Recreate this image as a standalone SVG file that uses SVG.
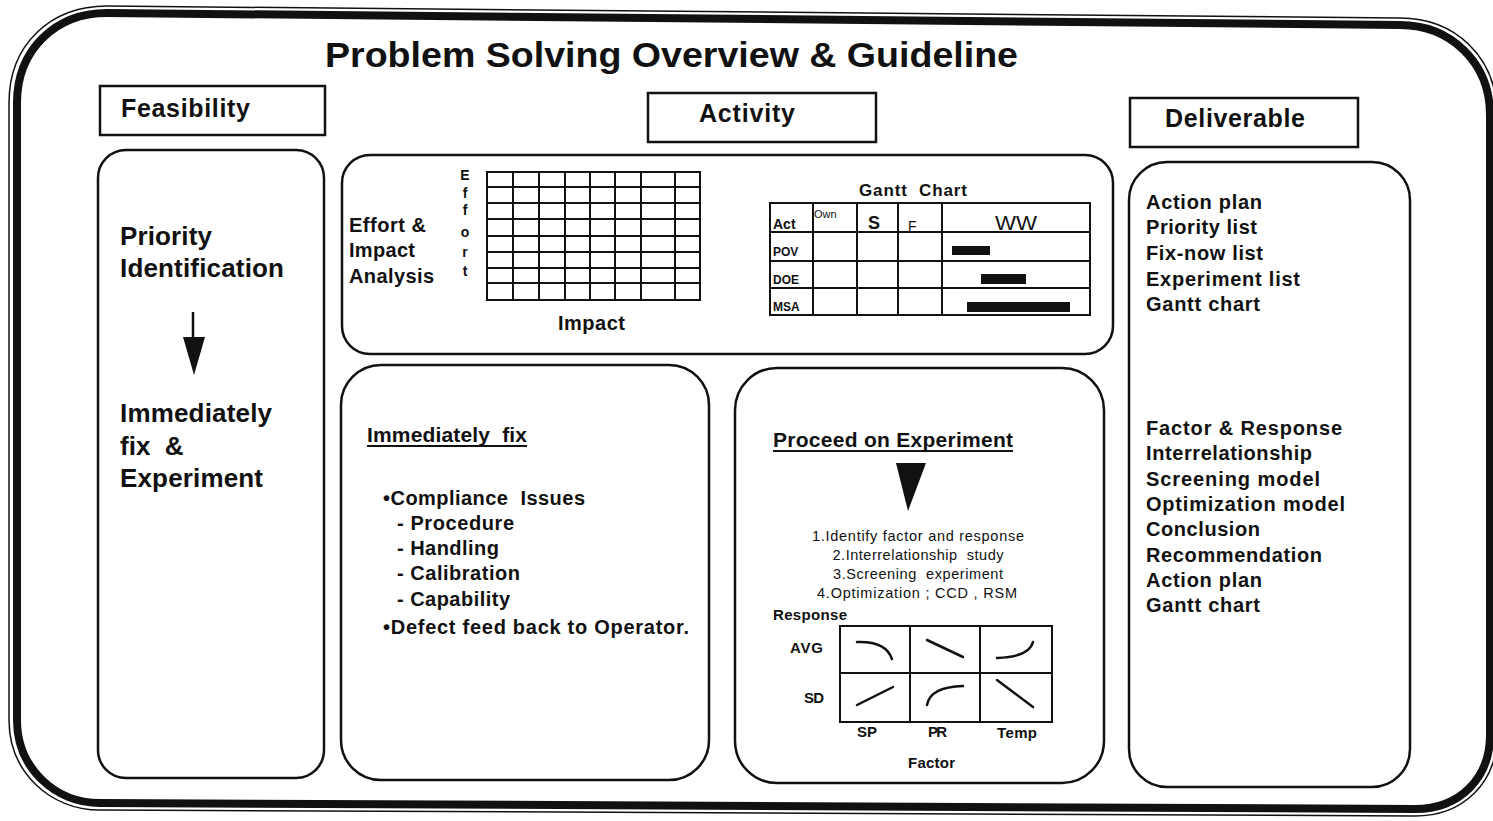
<svg xmlns="http://www.w3.org/2000/svg" width="1493" height="821" viewBox="0 0 1493 821">
<style>
text{font-family:"Liberation Sans",Arial,sans-serif;fill:#111}
.b{font-weight:bold}
.panel{fill:none;stroke:#111;stroke-width:2.5}
.hdr{fill:#fff;stroke:#111;stroke-width:2.5}
.grid{fill:none;stroke:#111;stroke-width:2}
.cur{fill:none;stroke:#111;stroke-width:2.5;stroke-linecap:round}
.h1{font-size:25px;font-weight:bold}
.big{font-size:26px;font-weight:bold}
.mid{font-size:20px;font-weight:bold}
.sm{font-size:14.5px}
</style>
<rect x="0" y="0" width="1493" height="821" fill="#fff"/>
<g id="frame">
<path d="M9,103 C9,45 50,6 107,6 L1400,18 C1455,18 1497,57 1497,115 L1497,735 C1497,783 1463,816 1415,816 L100,810 C50,810 9,772 9,720 Z" fill="none" stroke="#111" stroke-width="1.5"/>
<path d="M17,103 C17,50 55,13 107,13 L1400,25 C1450,25 1490,62 1490,115 L1490,735 C1490,778 1460,809 1415,809 L100,803 C55,803 17,768 17,720 Z" fill="none" stroke="#111" stroke-width="8"/>
</g>
<text x="325" y="67" font-size="35" class="b" textLength="693" lengthAdjust="spacingAndGlyphs">Problem Solving Overview &amp; Guideline</text>
<g id="hdr-feasibility">
<rect class="hdr" x="100" y="86" width="225" height="49"/>
<text x="121" y="117" class="h1" textLength="129">Feasibility</text>
</g>
<g id="hdr-activity">
<rect class="hdr" x="648" y="93" width="228" height="49"/>
<text x="699" y="122" class="h1" textLength="96">Activity</text>
</g>
<g id="hdr-deliverable">
<rect class="hdr" x="1130" y="98" width="228" height="49"/>
<text x="1165" y="127" class="h1" textLength="140">Deliverable</text>
</g>
<g id="feasibility">
<rect class="panel" x="98" y="150" width="226" height="628" rx="28"/>
<text x="120" y="245" class="big" textLength="92">Priority</text>
<text x="120" y="277" class="big" textLength="164">Identification</text>
<line x1="193" y1="312" x2="193" y2="340" stroke="#111" stroke-width="2.5"/>
<polygon points="183,337 205,337 194,375" fill="#111"/>
<text x="120" y="422" class="big" textLength="152">Immediately</text>
<text x="120" y="455" class="big" xml:space="preserve">fix  &amp;</text>
<text x="120" y="487" class="big" textLength="143">Experiment</text>
</g>
<g id="effort-impact">
<rect class="panel" x="342" y="155" width="771" height="199" rx="28"/>
<text x="349" y="232" class="mid" textLength="77">Effort &amp;</text>
<text x="349" y="257" class="mid" textLength="66">Impact</text>
<text x="349" y="283" class="mid" textLength="85">Analysis</text>
<g class="b" font-size="14" text-anchor="middle">
<text x="465" y="180">E</text><text x="465" y="198">f</text><text x="465" y="215">f</text><text x="465" y="237">o</text><text x="465" y="257">r</text><text x="465" y="276">t</text>
</g>
<g class="grid">
<rect x="487" y="172" width="213" height="128"/>
<path d="M513,172V300M539,172V300M565,172V300M590,172V300M615,172V300M641,172V300M675,172V300"/>
<path d="M487,187H700M487,203H700M487,219H700M487,236H700M487,252H700M487,268H700M487,283H700"/>
</g>
<text x="558" y="330" class="mid" textLength="67">Impact</text>
<text x="859" y="196" font-size="17" class="b" textLength="108" xml:space="preserve">Gantt  Chart</text>
<g class="grid">
<rect x="770" y="203" width="320" height="112"/>
<path d="M770,232H1090M770,261H1090M770,288H1090"/>
<path d="M813,203V315M857,203V315M898,203V315M942,203V315"/>
</g>
<text x="773" y="229" font-size="14" class="b">Act</text>
<text x="814" y="218" font-size="11">Own</text>
<text x="868" y="229" font-size="18" class="b">S</text>
<text x="908" y="231" font-size="14">F</text>
<text x="995" y="230" font-size="20" textLength="42" lengthAdjust="spacingAndGlyphs">WW</text>
<text x="773" y="256" font-size="12" class="b">POV</text>
<text x="773" y="284" font-size="12" class="b">DOE</text>
<text x="773" y="311" font-size="12" class="b">MSA</text>
<rect x="952" y="246" width="38" height="9" fill="#111"/>
<rect x="981" y="274" width="45" height="10" fill="#111"/>
<rect x="967" y="302" width="103" height="10" fill="#111"/>
</g>
<g id="immediately-fix">
<rect class="panel" x="341" y="365" width="368" height="415" rx="40"/>
<text x="367" y="442" font-size="21" class="b" textLength="160" xml:space="preserve">Immediately  fix</text>
<line x1="367" y1="446" x2="527" y2="446" stroke="#111" stroke-width="2"/>
<text x="383" y="505" class="mid" textLength="202" xml:space="preserve">•Compliance  Issues</text>
<text x="397" y="530" class="mid" textLength="117">- Procedure</text>
<text x="397" y="555" class="mid" textLength="102">- Handling</text>
<text x="397" y="580" class="mid" textLength="123">- Calibration</text>
<text x="397" y="606" class="mid" textLength="113">- Capability</text>
<text x="383" y="634" class="mid" textLength="306">•Defect feed back to Operator.</text>
</g>
<g id="proceed-experiment">
<rect class="panel" x="735" y="368" width="369" height="415" rx="42"/>
<text x="773" y="447" font-size="21" class="b" textLength="240">Proceed on Experiment</text>
<line x1="773" y1="451" x2="1013" y2="451" stroke="#111" stroke-width="2"/>
<polygon points="896,463 926,463 908,511" fill="#111"/>
<g class="sm" text-anchor="middle">
<text x="918" y="541" textLength="212" xml:space="preserve">1.Identify factor and response</text>
<text x="918" y="560" textLength="171" xml:space="preserve">2.Interrelationship  study</text>
<text x="918" y="579" textLength="170" xml:space="preserve">3.Screening  experiment</text>
<text x="917" y="598" textLength="200" xml:space="preserve">4.Optimization ; CCD , RSM</text>
</g>
<text x="773" y="620" font-size="15" class="b" textLength="74">Response</text>
<g class="grid">
<rect x="840" y="626" width="212" height="96"/>
<path d="M840,673H1052M910,626V722M980,626V722"/>
</g>
<text x="790" y="653" font-size="15" class="b" textLength="33">AVG</text>
<text x="804" y="703" font-size="15" class="b" textLength="20">SD</text>
<text x="857" y="737" font-size="15" class="b" textLength="20">SP</text>
<text x="928" y="737" font-size="15" class="b" textLength="19">PR</text>
<text x="997" y="738" font-size="15" class="b" textLength="40">Temp</text>
<text x="908" y="768" font-size="15" class="b" textLength="47">Factor</text>
<g class="cur">
<path d="M857,642 Q886,641 892,659"/>
<path d="M927,640 L963,657"/>
<path d="M997,658 Q1029,657 1033,642"/>
<path d="M857,705 L893,687"/>
<path d="M927,705 Q930,687 963,686"/>
<path d="M997,680 L1033,707"/>
</g>
</g>
<g id="deliverable">
<rect class="panel" x="1129" y="162" width="281" height="625" rx="38"/>
<g class="mid">
<text x="1146" y="209" textLength="116">Action plan</text>
<text x="1146" y="234" textLength="111">Priority list</text>
<text x="1146" y="260" textLength="117">Fix-now list</text>
<text x="1146" y="286" textLength="154">Experiment list</text>
<text x="1146" y="311" textLength="114">Gantt chart</text>
<text x="1146" y="435" textLength="196">Factor &amp; Response</text>
<text x="1146" y="460" textLength="166">Interrelationship</text>
<text x="1146" y="486" textLength="174">Screening model</text>
<text x="1146" y="511" textLength="199">Optimization model</text>
<text x="1146" y="536" textLength="114">Conclusion</text>
<text x="1146" y="562" textLength="176">Recommendation</text>
<text x="1146" y="587" textLength="116">Action plan</text>
<text x="1146" y="612" textLength="114">Gantt chart</text>
</g>
</g>
</svg>
